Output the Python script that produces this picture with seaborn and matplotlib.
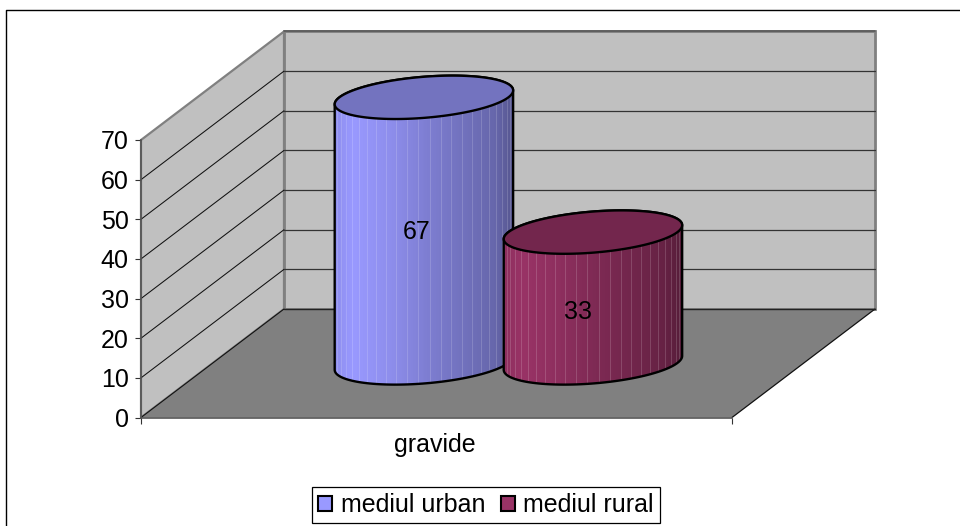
import numpy as np
import pandas as pd
import matplotlib
matplotlib.use("Agg")
import matplotlib.pyplot as plt
import seaborn as sns
from matplotlib.collections import LineCollection
from matplotlib.colors import to_rgb
from matplotlib.lines import Line2D
from matplotlib.patches import Polygon
from matplotlib.path import Path
from matplotlib.transforms import Affine2D, IdentityTransform

# ---- data ----
categories = ["gravide", "gravide"]
series_names = ["mediul urban", "mediul rural"]
series_values = [67, 33]
series_colors = ["#9999FF", "#993366"]
y_ticks = [0, 10, 20, 30, 40, 50, 60, 70]

# ---- layout ----
W, H = 960, 526
DEPTH = np.array([143.0, 108.5])      # shift of the back wall, pixels
BAR_DEPTH = 0.503                     # bars stand half way back
RADIUS_DEPTH = 21.7 / 108.5
WALL = "#C0C0C0"
FLOOR = "#808080"
EDGE = "#808080"
FS = 18

sns.set_theme(style="white")
plt.rcParams["font.family"] = ["Liberation Sans", "DejaVu Sans"]
plt.rcParams["axes.unicode_minus"] = False

fig = plt.figure(figsize=(W / 100, H / 100), dpi=100, facecolor="white")
ax = fig.add_axes([141 / W, (H - 417.5) / H, 591 / W, 277.5 / H])
ax.patch.set_visible(False)

frame = pd.DataFrame({"categorie": categories, "mediu": series_names, "valoare": series_values})
sns.barplot(data=frame, x="categorie", y="valoare", hue="mediu", hue_order=series_names,
            palette=series_colors, saturation=1, width=0.572, gap=0, ax=ax, legend=True, zorder=2)
ax.get_legend().remove()
ax.set_xlim(-0.5, 0.5)
ax.set_ylim(y_ticks[0], y_ticks[-1])
ax.set_xlabel("")
ax.set_ylabel("")

px = IdentityTransform()


def project(x, value, depth=0.0):
    """Data position plus a fraction of the oblique depth, in display pixels."""
    return ax.transData.transform((x, value)) + depth * DEPTH


# ---- walls and floor ----
xl, xr = ax.get_xlim()
y0, y1 = ax.get_ylim()
ax.add_patch(Polygon([project(xl, y0), project(xl, y1), project(xl, y1, 1), project(xl, y0, 1)],
                     transform=px, fc=WALL, ec=EDGE, lw=1.6, clip_on=False, zorder=0.1))
ax.add_patch(Polygon([project(xl, y0, 1), project(xl, y1, 1), project(xr, y1, 1), project(xr, y0, 1)],
                     transform=px, fc=WALL, ec=EDGE, lw=2.0, clip_on=False, zorder=0.2))
ax.add_patch(Polygon([project(xl, y0), project(xr, y0), project(xr, y0, 1), project(xl, y0, 1)],
                     transform=px, fc=FLOOR, ec="none", clip_on=False, zorder=0.3))


def line(a, b, color="black", lw=0.8, z=0.5):
    ax.add_line(Line2D(*zip(a, b), transform=px, color=color, lw=lw, clip_on=False, zorder=z))


for t in y_ticks[1:-1]:
    line(project(xl, t), project(xl, t, 1), "#111111", 0.75)
    line(project(xl, t, 1), project(xr, t, 1), "#333333", 0.9)
line(project(xl, y1, 1), project(xr, y1, 1), "#555555", 1.1)
line(project(xl, y0), project(xl, y0, 1), "#111111", 0.8)
line(project(xr, y0), project(xr, y0, 1), "#111111", 0.9)
line(project(xl, y0, 1), project(xr, y0, 1), "#222222", 1.0)

# ---- cylinders, built on the bars seaborn placed ----
shade_pos = [0.0, 0.1, 0.3, 0.5, 0.7, 0.9, 1.0]
shade_val = [0.93, 1.0, 0.93, 0.83, 0.75, 0.67, 0.56]
angles = np.radians(np.arange(7.2, 180, 7.2))

for i, container in enumerate(ax.containers):
    bar = container[0]
    value = bar.get_height()
    xc = bar.get_x() + bar.get_width() / 2
    base = np.array(to_rgb(bar.get_facecolor()[:3]))
    ux = (project(xc + bar.get_width() / 2, 0)[0] - project(xc - bar.get_width() / 2, 0)[0]) / 2
    v = DEPTH * RADIUS_DEPTH
    t0 = np.arctan2(v[0], ux)
    bottom = project(xc, 0, BAR_DEPTH)
    top = project(xc, value, BAR_DEPTH)


    def ellipse(c, t):
        return np.column_stack([c[0] + ux * np.cos(t) + v[0] * np.sin(t),
                                c[1] + v[1] * np.sin(t)])


    sil = np.vstack([ellipse(bottom, np.linspace(t0, t0 - np.pi, 80)),
                     ellipse(top, np.linspace(t0 + np.pi, t0, 80))])
    clip = Path(np.vstack([sil, sil[:1]]), closed=True)
    z = 3 + i
    R = np.hypot(ux, v[0])

    # the bar itself moves back to its place in depth and is cut to the silhouette
    bar.set_transform(ax.transData + Affine2D().translate(*(DEPTH * BAR_DEPTH)))
    bar.set_clip_box(fig.bbox)
    bar.set_clip_path(clip, px)
    bar.set_zorder(z)

    s = np.linspace(0, 1, 180)
    shade = np.interp(s, shade_pos, shade_val)
    rgb = np.clip(base[None, None, :] * shade[None, :, None], 0, 1)
    im = ax.imshow(rgb, extent=(bottom[0] - R, bottom[0] + R, bottom[1] - 40, top[1] + 40),
                   transform=px, aspect="auto", interpolation="nearest", zorder=z + 0.1)
    im.set_clip_box(fig.bbox)
    im.set_clip_path(clip, px)

    xs = bottom[0] + R * np.cos(angles)
    lc = LineCollection([[(x, bottom[1] - 40), (x, top[1])] for x in xs], transform=px,
                        colors="white", alpha=0.16, linewidths=0.7, zorder=z + 0.2)
    ax.add_collection(lc, autolim=False)
    lc.set_clip_box(fig.bbox)
    lc.set_clip_path(clip, px)

    ax.add_patch(Polygon(sil, transform=px, fc="none", ec="black", lw=1.7, clip_on=False, zorder=z + 0.3))
    ax.add_patch(Polygon(ellipse(top, np.linspace(0, 2 * np.pi, 160)), transform=px, fc=base * 0.75,
                         ec="black", lw=1.7, clip_on=False, zorder=z + 0.4))

label_nudge = [(-7, -1.5), (-15, -14)]
for container, nudge in zip(ax.containers, label_nudge):
    bar = container[0]
    xc = bar.get_x() + bar.get_width() / 2
    ax.annotate(f"{bar.get_height():g}", xy=project(xc, bar.get_height() / 2, BAR_DEPTH), xycoords=px,
                xytext=nudge, textcoords="offset pixels", ha="center", va="center",
                fontsize=FS, color="black", zorder=10, annotation_clip=False)

ax.set_xlim(xl, xr)
ax.set_ylim(y0, y1)

# ---- axes ----
sns.despine(ax=ax, top=True, right=True)
for side in ("left", "bottom"):
    ax.spines[side].set_color("#555555")
    ax.spines[side].set_linewidth(1.2)
ax.set_yticks(y_ticks)
ax.set_xticks([xl, xr], labels=["", ""])
ax.set_xticks([0], labels=categories[:1], minor=True)
ax.tick_params(axis="both", which="major", length=4.3, width=0.8, color="#333333",
               labelsize=FS, labelcolor="black", left=True, bottom=True, pad=4.5)
ax.tick_params(axis="x", which="minor", length=0, labelsize=FS, labelcolor="black", pad=11)
for lab in ax.get_xticklabels(minor=True):
    lab.set_transform(lab.get_transform() + Affine2D().translate(-2, 0))

# ---- legend ----
handles = [c for c in ax.containers]
leg = fig.legend(handles, series_names, loc="center", bbox_to_anchor=(485.8 / W, 1 - 505.2 / H),
                 ncol=2, fontsize=FS, frameon=True, fancybox=False, framealpha=1, edgecolor="black",
                 borderpad=0.25, borderaxespad=0, handlelength=0.56, handleheight=0.56,
                 handletextpad=0.34, columnspacing=0.62, labelcolor="black")
leg.get_frame().set_linewidth(0.9)
for h, c in zip(leg.get_patches(), series_colors):
    h.set_facecolor(c)
    h.set_edgecolor("black")
    h.set_linewidth(1.5)

# ---- chart frame: only the left and top edges fall inside the picture ----
fig.add_artist(Line2D([5.5 / W, 5.5 / W, 1], [0, 1 - 9.5 / H, 1 - 9.5 / H],
                      transform=fig.transFigure, color="black", lw=1.0))

fig.savefig("out.png", dpi=100, facecolor="white")
